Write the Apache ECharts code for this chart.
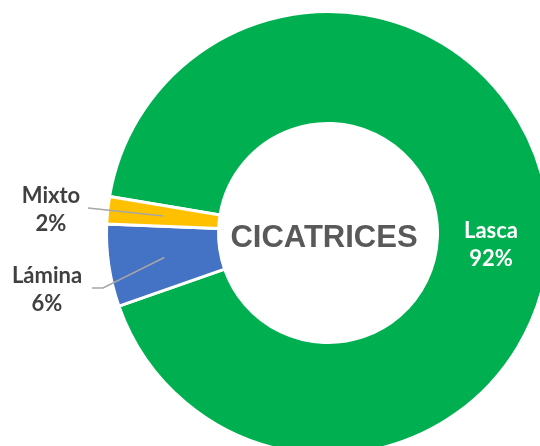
<!DOCTYPE html>
<html>
<head>
<meta charset="utf-8">
<style>
  html, body { margin: 0; padding: 0; background: #ffffff; }
  #chart { width: 540px; height: 446px; }
</style>
<script src="https://cdn.jsdelivr.net/npm/echarts@6/dist/echarts.min.js"></script>
</head>
<body>
<div id="chart"></div>
<script>
// Tipos de cicatrices (porcentaje)
const categories = ['Lasca', 'Lámina', 'Mixto'];
const values = [92, 6, 2];
const colors = ['#00B050', '#4472C4', '#FFC000'];
const centerTitle = 'CICATRICES';

const CX = 328, CY = 233;
const R_IN = 109.5, R_OUT = 221.5;
const START = 170.5;

// label block centres and leader line end points, per category
const labelPlacement = {
  'Lasca':  { x: 491, y: 245, line: null },
  'Lámina': { x: 47,  y: 290, line: [[103, 288], [92, 288]] },
  'Mixto':  { x: 51,  y: 210, line: [[88, 208]] }
};

const chart = echarts.init(document.getElementById('chart'), null, { renderer: 'canvas' });

const ringData = categories.map((name, i) => ({
  name,
  value: values[i],
  itemStyle: { color: colors[i] }
}));

// same values again, transparent, so labels and leader lines sit above the ring
const labelData = categories.map((name, i) => ({
  name,
  value: values[i],
  label: { color: name === 'Lasca' ? '#FFFFFF' : '#404040' },
  labelLine: { show: name !== 'Lasca' }
}));

chart.setOption({
  animation: false,
  backgroundColor: '#FFFFFF',
  graphic: [{
    type: 'text',
    x: CX - 4,
    y: CY + 5,
    style: {
      text: centerTitle,
      fill: '#595959',
      font: 'bold 31px "Liberation Sans", Arial, sans-serif',
      textAlign: 'center',
      textVerticalAlign: 'middle'
    },
    z: 10
  }],
  series: [{
    type: 'pie',
    z: 2,
    center: [CX, CY],
    radius: [R_IN, R_OUT],
    startAngle: START,
    clockwise: true,
    silent: true,
    itemStyle: { borderColor: '#FFFFFF', borderWidth: 3 },
    label: { show: false },
    labelLine: { show: false },
    data: ringData
  }, {
    type: 'pie',
    z: 5,
    center: [CX, CY],
    radius: [R_IN, R_OUT],
    startAngle: START,
    clockwise: true,
    silent: true,
    avoidLabelOverlap: false,
    itemStyle: { color: 'rgba(0,0,0,0)', borderWidth: 0 },
    label: {
      show: true,
      position: 'outside',
      formatter: p => p.name + '\n' + p.value + '%',
      fontFamily: 'Lato, "Open Sans", sans-serif',
      fontWeight: 'bold',
      fontSize: 22,
      lineHeight: 28,
      align: 'center'
    },
    labelLine: {
      show: true,
      length: 20,
      length2: 10,
      lineStyle: { color: '#A6A6A6', width: 1.5 }
    },
    labelLayout: function (params) {
      const name = categories[params.dataIndex];
      const place = labelPlacement[name];
      const out = { x: place.x, y: place.y, align: 'center', verticalAlign: 'middle' };
      if (place.line && params.labelLinePoints) {
        // start the leader line half way through the ring
        const p0 = params.labelLinePoints[0];
        const k = ((R_IN + R_OUT) / 2) / R_OUT;
        const start = [CX + (p0[0] - CX) * k, CY + (p0[1] - CY) * k];
        const pts = [start].concat(place.line);
        if (pts.length === 2) pts.push(place.line[0]);
        out.labelLinePoints = pts;
      }
      return out;
    },
    data: labelData
  }]
});
</script>
</body>
</html>
